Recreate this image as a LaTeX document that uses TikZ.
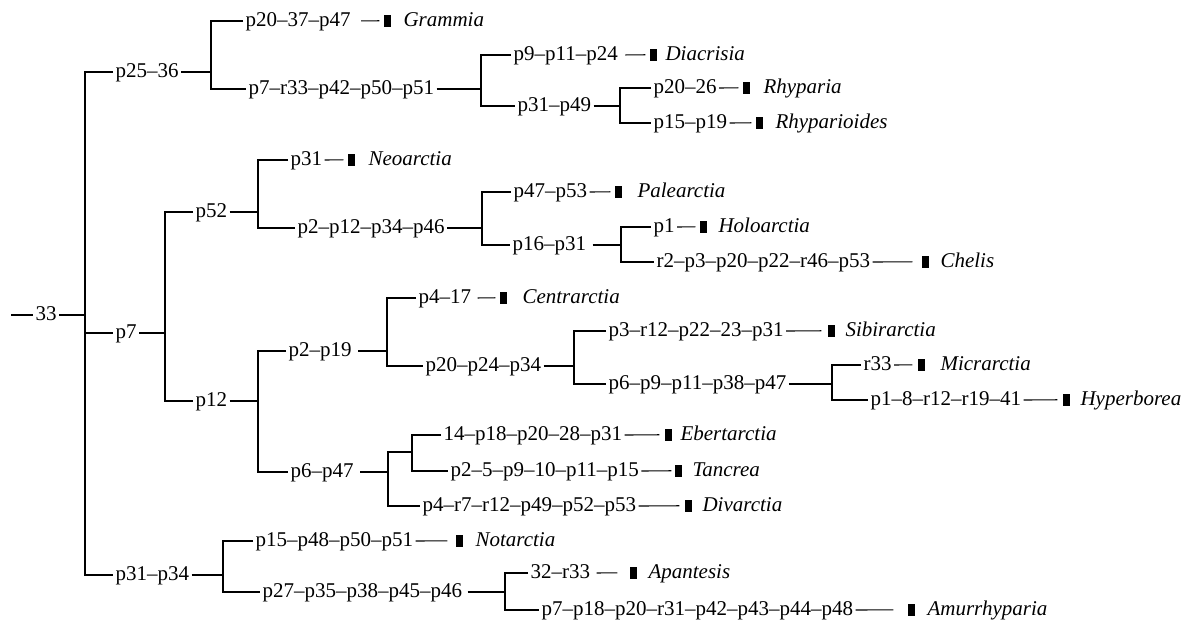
\documentclass[tikz,border=0pt]{standalone}
\usepackage{fontspec}
\setmainfont{Liberation Serif}
\begin{document}
\begin{tikzpicture}[x=1pt,y=-1pt,line width=1.1pt,font=\fontsize{21}{25}\selectfont]
\tikzset{
 lab/.style={anchor=west, inner xsep=2pt, inner ysep=0pt, text height=14pt, text depth=3pt},
 taxon/.style={anchor=west, inner xsep=0pt, inner ysep=0pt, font=\fontsize{21}{25}\selectfont\itshape, text height=14pt, text depth=3pt},
 sq/.style={fill=black, draw=none, minimum width=6.5pt, minimum height=11.5pt, inner sep=0pt}
}
\newcommand{\tx}[6][]{%
 \node[sq] (#2s) at (#4+3.25,#3-0.25) {};
 \node[taxon] (#2t) at (#5,#3) {#6};
 \draw[shorten >=4pt,#1] (#2.east) -- (#2s.west);}
\useasboundingbox (0,0) rectangle (1189,621);

% root
\coordinate (r0) at (11,315);
\node[lab] (n33) at (33,315) {33};
\coordinate (jr) at (85,315);
\draw (r0) -- (n33.west);
\draw (n33.east) -- (jr);
\node[lab] (n2536) at (113,72) {p25–36};
\node[lab] (np7) at (113,333) {p7};
\node[lab] (np3134) at (113,575) {p31–p34};
\draw (n2536.west) -| (jr) |- (np3134.west);
\draw (jr) |- (np7.west);

% p25-36
\coordinate (ja) at (211,72);
\draw (n2536.east) -- (ja);
\node[lab] (gra) at (243,21) {p20–37–p47};
\node[lab] (a2) at (246,89) {p7–r33–p42–p50–p51};
\draw (gra.west) -| (ja) |- (a2.west);
\tx[shorten <=8pt]{gra}{21}{384}{403}{Grammia}

\coordinate (jb) at (481,89);
\draw (a2.east) -- (jb);
\node[lab] (dia) at (511,55) {p9–p11–p24};
\node[lab] (a3) at (515,106) {p31–p49};
\draw (dia.west) -| (jb) |- (a3.west);
\tx[shorten <=5pt]{dia}{55}{650}{665}{Diacrisia}

\coordinate (jc) at (620,106);
\draw (a3.east) -- (jc);
\node[lab] (rh1) at (651,88) {p20–26};
\node[lab] (rh2) at (651,123) {p15–p19};
\draw (rh1.west) -| (jc) |- (rh2.west);
\tx{rh1}{88}{743}{763}{Rhyparia}
\tx{rh2}{123}{756}{775}{Rhyparioides}

% p7
\coordinate (jd) at (165,333);
\draw (np7.east) -- (jd);
\node[lab] (p52) at (193,212) {p52};
\node[lab] (p12) at (193,401) {p12};
\draw (p52.west) -| (jd) |- (p12.west);

\coordinate (je) at (258,212);
\draw (p52.east) -- (je);
\node[lab] (neo) at (288,160) {p31};
\node[lab] (b2) at (295,228) {p2–p12–p34–p46};
\draw (neo.west) -| (je) |- (b2.west);
\tx{neo}{160}{348}{368}{Neoarctia}

\coordinate (jf) at (482,228);
\draw (b2.east) -- (jf);
\node[lab] (pal) at (511,192) {p47–p53};
\node[lab] (b3) at (510,245) {p16–p31};
\draw (pal.west) -| (jf) |- (b3.west);
\tx{pal}{192}{615}{637}{Palearctia}

\coordinate (jg) at (621,245);
\draw[shorten <=4pt] (b3.east) -- (jg);
\node[lab] (hol) at (651,227) {p1};
\node[lab] (che) at (654,262) {r2–p3–p20–p22–r46–p53};
\draw (hol.west) -| (jg) |- (che.west);
\tx{hol}{227}{700}{718}{Holoarctia}
\tx[shorten >=9pt]{che}{262}{922}{940}{Chelis}

% p12
\coordinate (jh) at (258,401);
\draw (p12.east) -- (jh);
\node[lab] (c1) at (286,351) {p2–p19};
\node[lab] (d2) at (288,472) {p6–p47};
\draw (c1.west) -| (jh) |- (d2.west);

\coordinate (ji) at (387,351);
\draw[shorten <=4pt] (c1.east) -- (ji);
\node[lab] (cen) at (416,298) {p4–17};
\node[lab] (c2) at (423,366) {p20–p24–p34};
\draw (cen.west) -| (ji) |- (c2.west);
\tx[shorten <=4pt]{cen}{298}{500}{522}{Centrarctia}

\coordinate (jj) at (574,366);
\draw (c2.east) -- (jj);
\node[lab] (sib) at (606,331) {p3–r12–p22–23–p31};
\node[lab] (c3) at (606,384) {p6–p9–p11–p38–p47};
\draw (sib.west) -| (jj) |- (c3.west);
\tx[shorten >=6pt]{sib}{331}{828}{845}{Sibirarctia}

\coordinate (jk) at (832,384);
\draw (c3.east) -- (jk);
\node[lab] (mic) at (861,365) {r33};
\node[lab] (hyp) at (868,400) {p1–8–r12–r19–41};
\draw (mic.west) -| (jk) |- (hyp.west);
\tx[shorten >=5pt]{mic}{365}{918}{940}{Micrarctia}
\tx[shorten >=5pt]{hyp}{400}{1063}{1080}{Hyperborea}

\coordinate (jl) at (388,472);
\coordinate (jm) at (412,452);
\draw[shorten <=4pt] (d2.east) -- (jl);
\node[lab] (ebe) at (441,435) {14–p18–p20–28–p31};
\node[lab] (tan) at (448,471) {p2–5–p9–10–p11–p15};
\node[lab] (div) at (420,506) {p4–r7–r12–p49–p52–p53};
\draw (jm) -| (jl) |- (div.west);
\draw (ebe.west) -| (jm) |- (tan.west);
\tx[shorten >=5pt]{ebe}{435}{665}{680}{Ebertarctia}
\tx[shorten >=3pt]{tan}{471}{675}{692}{Tancrea}
\tx[shorten >=5pt]{div}{506}{685}{702}{Divarctia}

% p31-p34
\coordinate (jn) at (223,575);
\draw (np3134.east) -- (jn);
\node[lab] (not) at (253,541) {p15–p48–p50–p51};
\node[lab] (e2) at (260,592) {p27–p35–p38–p45–p46};
\draw (not.west) -| (jn) |- (e2.west);
\tx[shorten >=8pt]{not}{541}{456}{475}{Notarctia}

\coordinate (jo) at (505,592);
\draw[shorten <=3pt] (e2.east) -- (jo);
\node[lab] (apa) at (528,573) {32–r33};
\node[lab] (amu) at (539,610) {p7–p18–p20–r31–p42–p43–p44–p48};
\draw (apa.west) -| (jo) |- (amu.west);
\tx[shorten <=4pt,shorten >=12pt]{apa}{573}{630}{648}{Apantesis}
\tx[shorten >=14pt]{amu}{610}{908}{927}{Amurrhyparia}
\end{tikzpicture}
\end{document}
